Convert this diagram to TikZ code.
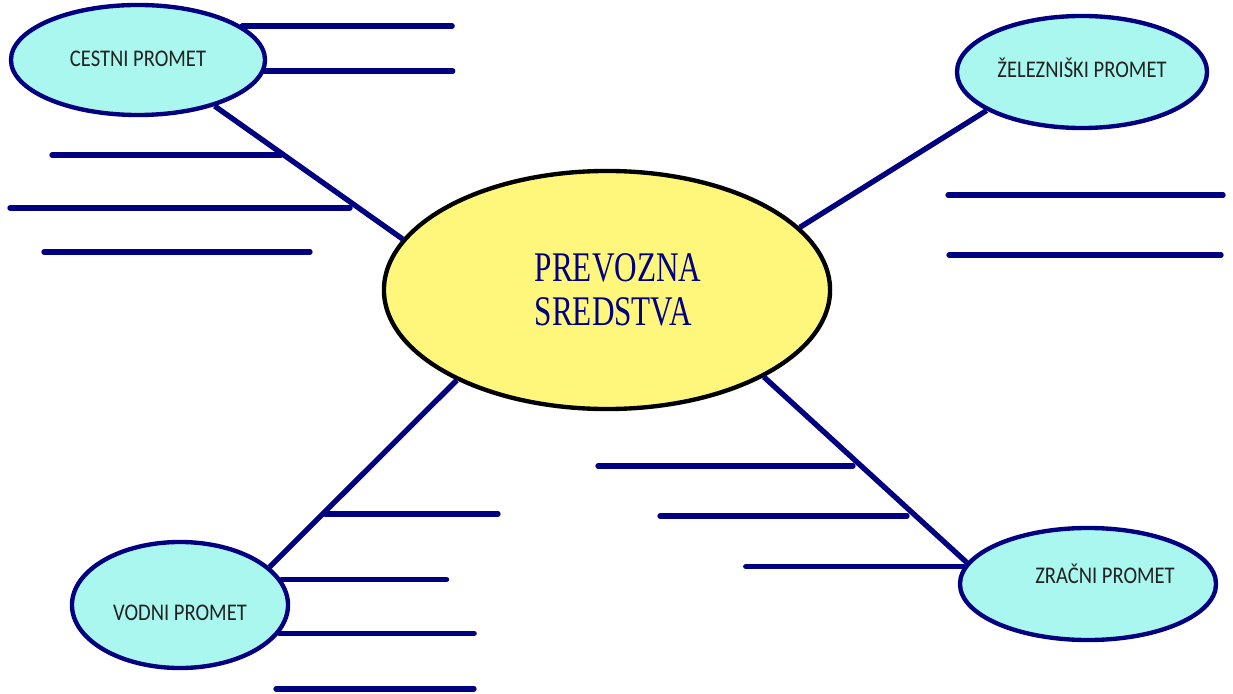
\documentclass[tikz,border=0pt]{standalone}
\usepackage{fontspec}
\usepackage{tikz}
\usetikzlibrary{shapes.geometric}
\newfontfamily\naslovfont[FakeStretch=0.74]{Liberation Serif}
\newfontfamily\oznakafont[FakeStretch=0.86]{Carlito}
\definecolor{tamnoplava}{HTML}{000080}
\definecolor{tirkizna}{HTML}{AAF7EF}
\definecolor{zuta}{HTML}{FFF77C}
\definecolor{tekst}{HTML}{222222}
\newcommand{\natpis}[2]{\raisebox{#1}[0pt][0pt]{#2}}
\tikzset{
  promet/.style={shape=ellipse, draw=tamnoplava, line width=3.1pt, fill=tirkizna,
    inner sep=0pt, text=tekst, font=\oznakafont\fontsize{17}{18}\selectfont},
  veza/.style={draw=tamnoplava, line width=3.8pt},
  crta/.style={draw=tamnoplava, line width=3.8pt, line cap=round},
}

\begin{document}
\begin{tikzpicture}[x=0.025cm, y=-0.025cm]
     \useasboundingbox (0,0) rectangle (1233,694);

     \node[shape=ellipse, draw=black, line width=3.1pt, fill=zuta, inner sep=0pt,
           minimum width=11.15cm, minimum height=5.95cm, align=left, text=tamnoplava,
           font=\naslovfont\fontsize{30}{31}\selectfont] (sredstva) at (607,290)
           {\hspace*{0.55cm}PREVOZNA\\\hspace*{0.55cm}SREDSTVA};

     \node[promet, minimum width=6.35cm, minimum height=2.75cm] (cestni) at (138,60)
           {\natpis{-0.16cm}{CESTNI PROMET}};
     \node[promet, minimum width=6.25cm, minimum height=2.8cm] (zelezniski) at (1082,72)
           {\natpis{-0.14cm}{ŽELEZNIŠKI PROMET}};
     \node[promet, minimum width=5.4cm, minimum height=3.15cm] (vodni) at (180,605)
           {\natpis{-0.39cm}{VODNI PROMET}};
     \node[promet, minimum width=6.4cm, minimum height=2.8cm] (zracni) at (1088,584)
           {\natpis{0.01cm}{\hspace*{0.85cm}ZRAČNI PROMET}};

     \path (cestni.-31) edge[veza] (sredstva.166);
     \path (zelezniski.202) edge[veza] (sredstva.18);
     \path (vodni.23) edge[veza] (sredstva.211);
     \path (zracni.170) edge[veza] (sredstva.-29);

     % crte za pisanje
     \draw[crta] (cestni.18) -- ++(210,0);
     \draw[crta] (cestni.-5) -- ++(188,0);
     \draw[crta] (52,155) -- (281,155);
     \draw[crta] (10,208) -- (350,208);
     \draw[crta] (44,252) -- (310,252);

     \draw[crta] (948,195) -- (1223,195);
     \draw[crta] (949,255) -- (1221,255);

     \draw[crta] (325,514) -- (498,514);
     \draw[crta] (vodni.14) -- ++(165,0);
     \draw[crta] (vodni.-16) -- ++(195,0);
     \draw[crta] (276,689) -- (474,689);

     \draw[crta] (598,466) -- (853,466);
     \draw[crta] (660,516) -- (907,516);
     \draw[crta] (zracni.172) -- ++(-218,0);
    \end{tikzpicture}
\end{document}
